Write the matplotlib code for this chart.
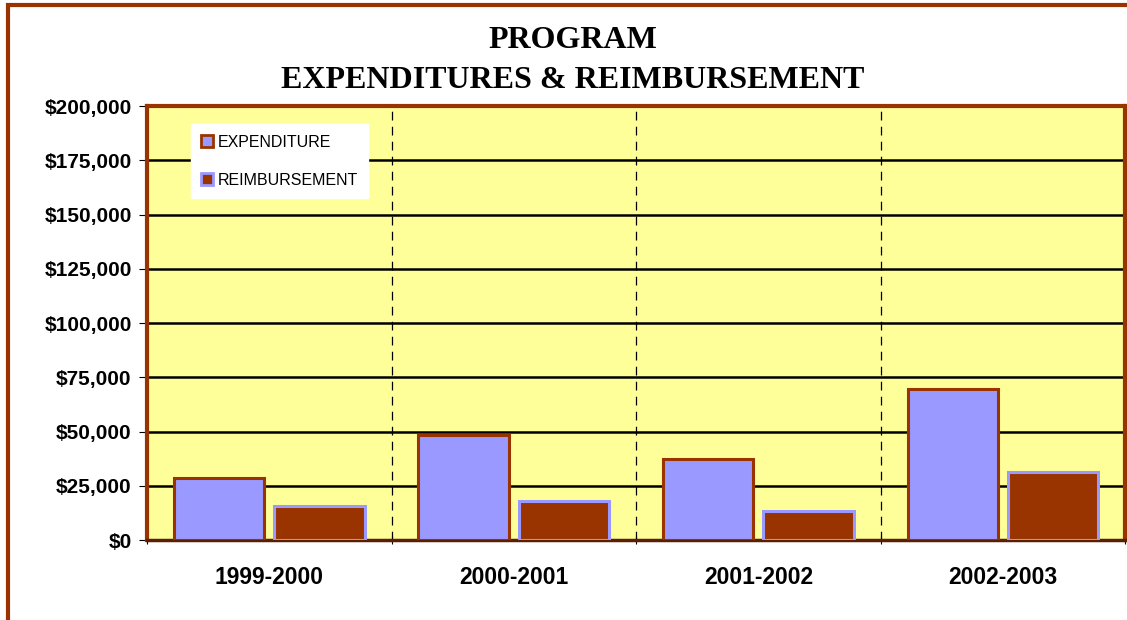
import matplotlib.pyplot as plt
from matplotlib.patches import Rectangle, Patch
from matplotlib.ticker import FuncFormatter
import numpy as np

years = ['1999-2000', '2000-2001', '2001-2002', '2002-2003']
expenditure = [28600, 48400, 37300, 69600]
reimbursement = [15900, 18000, 13400, 31300]

periwinkle = '#9999FF'
brown = '#993300'
yellow = '#FFFF99'

fig = plt.figure(figsize=(11.27, 6.2), dpi=100)
ax = fig.add_axes([0.1304, 0.129, 0.868, 0.7])

x = np.arange(len(years))
w = 0.37
ax.bar(x - 0.205, expenditure, width=w, color=periwinkle, edgecolor=brown, linewidth=2.2, zorder=3)
ax.bar(x + 0.205, reimbursement, width=w, color=brown, edgecolor=periwinkle, linewidth=2.2, zorder=3)

ax.set_facecolor(yellow)
ax.set_xlim(-0.5, len(years) - 0.5)
ax.set_ylim(0, 200000)
ax.set_yticks(np.arange(0, 200001, 25000))
ax.yaxis.set_major_formatter(FuncFormatter(lambda v, p: '${:,.0f}'.format(v)))

# horizontal grid lines
for v in np.arange(25000, 200000, 25000):
    ax.axhline(v, color='black', linewidth=1.8, zorder=1)
# dashed category separators
for b in np.arange(0.5, len(years) - 0.5, 1):
    ax.axvline(b, color='black', linewidth=0.9, linestyle=(0, (7, 5)), zorder=1)

ax.set_xticks(np.arange(-0.5, len(years), 1))
ax.set_xticklabels([])
ax.set_xticks(x, minor=True)
ax.set_xticklabels(years, minor=True, fontsize=16.5, fontweight='bold', family='Liberation Sans')
ax.tick_params(axis='x', which='minor', length=0, pad=19)
ax.tick_params(axis='x', which='major', length=6, direction='inout')
ax.tick_params(axis='y', length=6, direction='out', pad=5)
for lbl in ax.get_yticklabels():
    lbl.set_fontsize(15)
    lbl.set_fontweight('bold')
    lbl.set_family('Liberation Sans')

for s in ['top', 'right', 'left']:
    ax.spines[s].set_color(brown)
    ax.spines[s].set_linewidth(3)
ax.spines['bottom'].set_color('#5a1e00')
ax.spines['bottom'].set_linewidth(2.5)

handles = [Patch(facecolor=periwinkle, edgecolor=brown, linewidth=2, label='EXPENDITURE'),
           Patch(facecolor=brown, edgecolor=periwinkle, linewidth=2, label='REIMBURSEMENT')]
leg = ax.legend(handles=handles, loc='upper left', bbox_to_anchor=(0.045, 0.958),
                borderaxespad=0, frameon=True, fancybox=False, framealpha=1,
                edgecolor='white', prop={'family': 'Liberation Sans', 'size': 11.5},
                handlelength=0.75, handleheight=0.75, handletextpad=0.25,
                labelspacing=1.45, borderpad=0.65)

fig.text(0.508, 0.935, 'PROGRAM', ha='center', va='center',
         fontsize=23, fontweight='bold', family='Liberation Serif')
fig.text(0.508, 0.87, 'EXPENDITURES & REIMBURSEMENT', ha='center', va='center',
         fontsize=23, fontweight='bold', family='Liberation Serif')

# outer chart frame (left and top visible)
fig.patches.append(Rectangle((0.0075, -0.05), 1.1, 1.042, transform=fig.transFigure,
                             fill=False, edgecolor=brown, linewidth=3))

fig.savefig('out.png', dpi=100)
